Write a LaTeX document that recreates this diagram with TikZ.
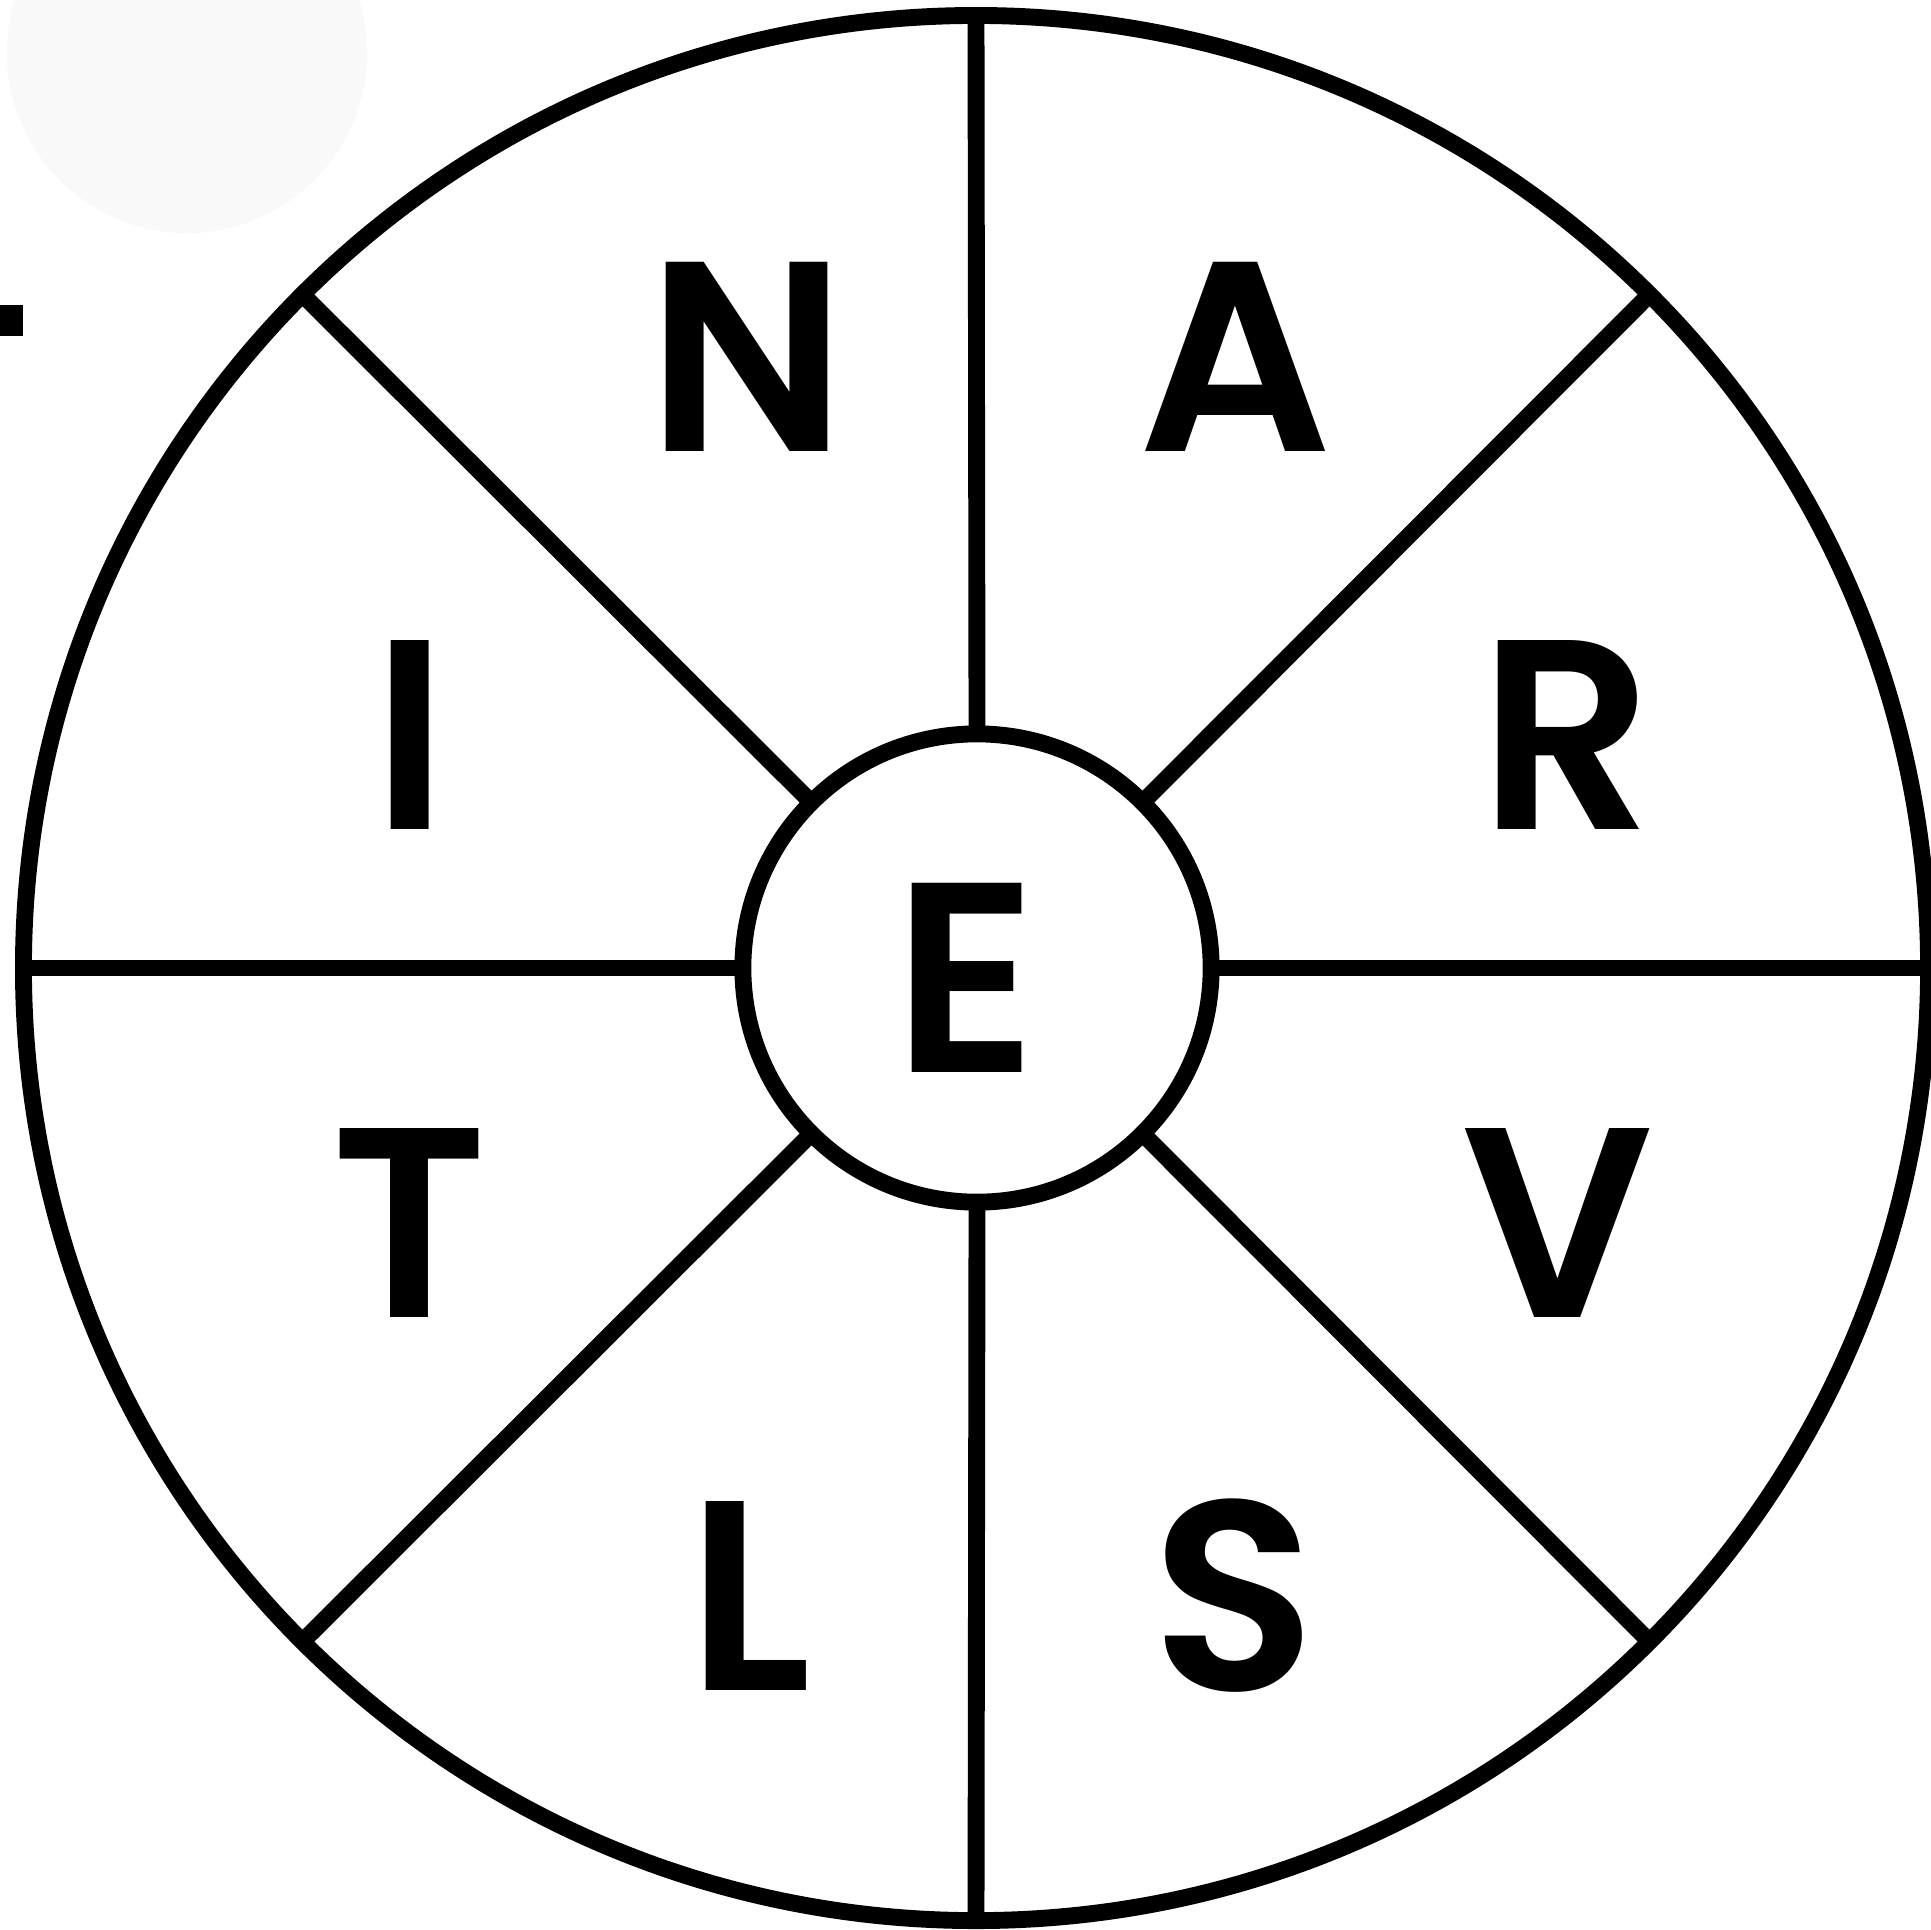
\documentclass[tikz,border=0pt]{standalone}
\usepackage{fontspec}
\newfontfamily\wheelfont{Poppins SemiBold}
\usetikzlibrary{positioning}
\definecolor{Ink}{HTML}{000000}
\definecolor{Haze}{HTML}{F9F9F9}

\begin{document}
\begin{tikzpicture}[
  x=0.01cm, y=-0.01cm,
  ring/.style={circle,draw=Ink,line width=4.8pt,inner sep=0pt,outer sep=0pt},
  spoke/.style={draw=Ink,line width=4.8pt},
  letter/.style={font=\wheelfont\fontsize{77}{77}\selectfont,text=Ink,inner sep=0pt,anchor=base}
]
\useasboundingbox (0,0) rectangle (1931,1929);
\fill[Haze] (187,53) circle [radius=1.8cm];
\fill[Ink] (0,305) rectangle (23,336);
\node[ring,minimum size=19.04cm] (rim) at (976,968) {};
\node[ring,minimum size=4.68cm] (hub) at (977,968) {};
\draw[spoke] (hub.0) -- (rim.0);
\draw[spoke] (hub.45) -- (rim.45);
\draw[spoke] (hub.90) -- (rim.90);
\draw[spoke] (hub.135) -- (rim.135);
\draw[spoke] (hub.180) -- (rim.180);
\draw[spoke] (hub.225) -- (rim.225);
\draw[spoke] (hub.270) -- (rim.270);
\draw[spoke] (hub.315) -- (rim.315);
\node[letter] (e) at (966,1072) {E};
\node[letter] (n) at (747,451) {N};
\node[letter] (a) at (1235,451) {A};
\node[letter] (i) at (410,829) {I};
\node[letter] (r) at (1566,829) {R};
\node[letter] (t) at (410,1317) {T};
\node[letter] (v) at (1558,1317) {V};
\node[letter] (l) at (750,1690) {L};
\node[letter] (s) at (1234,1690) {S};
\end{tikzpicture}
\end{document}
